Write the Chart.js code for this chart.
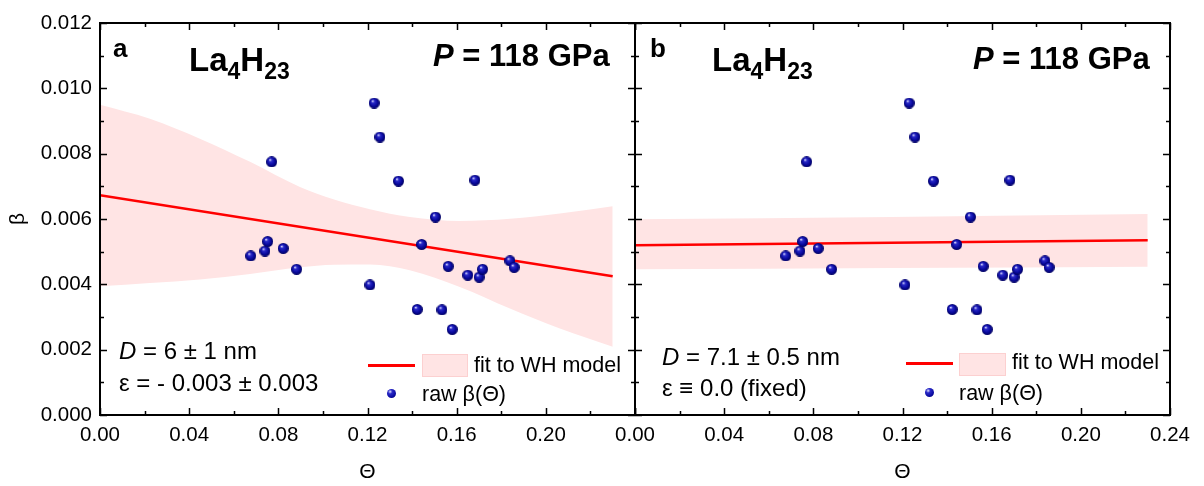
<!DOCTYPE html>
<html>
<head>
<meta charset="utf-8">
<script src="https://cdn.jsdelivr.net/npm/chart.js@4.4.1/dist/chart.umd.min.js"></script>
<style>
  body { margin: 0; background: #fff; width: 1204px; height: 486px; position: relative; overflow: hidden; }
  canvas { position: absolute; top: 0; }
  #chartA { left: 0; }
  #chartB { left: 600px; }
  .t { position: absolute; white-space: nowrap; line-height: 1; font-family: Arial, "Liberation Sans", sans-serif; color: #000; }
  .big { font-size: 31px; font-weight: bold; }
  .chem { font-size: 33px; font-weight: bold; }
  .sub { font-size: 23px; position: relative; top: 8px; }
  .lbl { font-size: 26px; font-weight: bold; }
  .note { font-size: 24px; }
  .leg { font-size: 21.5px; }
  .legline { position: absolute; height: 3px; background: #ff0000; }
  .legbox { position: absolute; background: #ffe4e4; border: 1px solid #fcd0d0; box-sizing: border-box; }
  .legdot { position: absolute; width: 9px; height: 9px; border-radius: 50%;
    background: radial-gradient(circle at 35% 30%, #e0e0ff 0%, #2a2ac8 25%, #0a0aa0 65%, #000060 100%); }
</style>
</head>
<body>
<canvas id="chartA" width="643" height="486"></canvas>
<canvas id="chartB" width="604" height="486"></canvas>

<!-- panel a texts -->
<div class="t lbl" style="left:113px;top:35px">a</div>
<div class="t chem" style="left:189px;top:43px">La<span class="sub">4</span>H<span class="sub">23</span></div>
<div class="t big" style="left:433px;top:40px"><i>P</i> = 118 GPa</div>
<div class="t note" style="left:119px;top:339px"><i>D</i> = 6 ± 1 nm</div>
<div class="t note" style="left:119px;top:371px">ε = - 0.003 ± 0.003</div>
<div class="legline" style="left:368px;top:364px;width:47px"></div>
<div class="legbox" style="left:422px;top:354px;width:46px;height:23px"></div>
<div class="t leg" style="left:474px;top:355px">fit to WH model</div>
<div class="legdot" style="left:387px;top:389px"></div>
<div class="t leg" style="left:422px;top:384px">raw β(Θ)</div>

<!-- panel b texts -->
<div class="t lbl" style="left:650px;top:35px">b</div>
<div class="t chem" style="left:712px;top:43px">La<span class="sub">4</span>H<span class="sub">23</span></div>
<div class="t big" style="left:973px;top:43px"><i>P</i> = 118 GPa</div>
<div class="t note" style="left:662px;top:345px"><i>D</i> = 7.1 ± 0.5 nm</div>
<div class="t note" style="left:662px;top:376px">ε ≡ 0.0 (fixed)</div>
<div class="legline" style="left:906px;top:362px;width:47px"></div>
<div class="legbox" style="left:959px;top:353px;width:47px;height:23px"></div>
<div class="t leg" style="left:1012px;top:352px">fit to WH model</div>
<div class="legdot" style="left:925px;top:388px"></div>
<div class="t leg" style="left:959px;top:383px">raw β(Θ)</div>

<script>
// raw beta(theta) points, same in both panels
const theta = [0.0676, 0.0740, 0.0752, 0.0770, 0.0822, 0.0882, 0.1211, 0.1230, 0.1256, 0.1339, 0.1423,
               0.1443, 0.1505, 0.1534, 0.1562, 0.1580, 0.1650, 0.1682, 0.1701, 0.1716, 0.1839, 0.1858];
const beta = [0.00487, 0.00502, 0.00531, 0.00775, 0.00510, 0.00446, 0.00398, 0.00955, 0.00851, 0.00716, 0.00323,
              0.00522, 0.00606, 0.00322, 0.00455, 0.00262, 0.00428, 0.00719, 0.00422, 0.00446, 0.00472, 0.00452];

// panel a: WH fit and its band
const fitThetaA = [0, 0.23];
const fitBetaA = [0.00673, 0.00425];
const bandThetaA = [0, 0.0224, 0.0448, 0.0673, 0.0897, 0.105, 0.1211, 0.139, 0.1614, 0.1839, 0.2063, 0.23];
const bandUpperA = [0.00950, 0.00907, 0.00846, 0.00775, 0.00698, 0.00660, 0.00630, 0.00606, 0.00594, 0.00601, 0.00617, 0.00639];
const bandLowerA = [0.00394, 0.00404, 0.00415, 0.00432, 0.00452, 0.00460, 0.00461, 0.00443, 0.00392, 0.00326, 0.00265, 0.00209];

// panel b: fit with fixed strain
const fitThetaB = [0, 0.23];
const fitBetaB = [0.00520, 0.00535];
const bandThetaB = [0, 0.115, 0.23];
const bandUpperB = [0.00599, 0.00606, 0.00615];
const bandLowerB = [0.00446, 0.00450, 0.00454];

// axis ticks
const xTicks = [0, 0.04, 0.08, 0.12, 0.16, 0.20, 0.24];
const yTicks = [0, 0.002, 0.004, 0.006, 0.008, 0.010, 0.012];

const FONT = 'Arial, "Liberation Sans", sans-serif';

const pts = (xs, ys) => xs.map((x, i) => ({ x: x, y: ys[i] }));

// little shaded sphere for the markers
function sphere(d) {
  const c = document.createElement('canvas');
  c.width = c.height = d;
  const g = c.getContext('2d');
  const r = d / 2;
  const grad = g.createRadialGradient(r * 0.7, r * 0.6, 0.3, r, r, r);
  grad.addColorStop(0, '#e0e0ff');
  grad.addColorStop(0.25, '#2a2ac8');
  grad.addColorStop(0.65, '#0a0aa0');
  grad.addColorStop(1, '#000060');
  g.fillStyle = grad;
  g.beginPath();
  g.arc(r, r, r, 0, Math.PI * 2);
  g.fill();
  return c;
}
const ball = sphere(11);

// frame with inward major/minor ticks on all four sides
const framePlugin = {
  id: 'frame',
  afterDraw(chart) {
    const { ctx, chartArea: a, scales: { x, y } } = chart;
    ctx.save();
    ctx.strokeStyle = '#000';
    ctx.lineWidth = 1.5;
    ctx.beginPath();
    xTicks.forEach((v, i) => {
      const marks = [[v, 7]];
      if (i < xTicks.length - 1) marks.push([(v + xTicks[i + 1]) / 2, 4]);
      marks.forEach(([val, len]) => {
        const px = Math.round(x.getPixelForValue(val)) + 0.5;
        ctx.moveTo(px, a.bottom); ctx.lineTo(px, a.bottom - len);
        ctx.moveTo(px, a.top); ctx.lineTo(px, a.top + len);
      });
    });
    yTicks.forEach((v, i) => {
      const marks = [[v, 7]];
      if (i < yTicks.length - 1) marks.push([(v + yTicks[i + 1]) / 2, 4]);
      marks.forEach(([val, len]) => {
        const py = Math.round(y.getPixelForValue(val)) + 0.5;
        ctx.moveTo(a.left, py); ctx.lineTo(a.left + len, py);
        ctx.moveTo(a.right, py); ctx.lineTo(a.right - len, py);
      });
    });
    ctx.stroke();
    ctx.lineWidth = 2;
    ctx.strokeRect(a.left, a.top, a.right - a.left, a.bottom - a.top);
    ctx.restore();
  }
};

function makeChart(id, fitT, fitB, bandT, bandU, bandL, opts) {
  return new Chart(document.getElementById(id), {
    type: 'scatter',
    data: {
      datasets: [
        { data: pts(theta, beta), pointStyle: ball, pointRadius: 5.5, order: 0 },
        { data: pts(fitT, fitB), showLine: true, borderColor: '#ff0000', borderWidth: 2.5,
          pointRadius: 0, order: 1 },
        { data: pts(bandT, bandU), showLine: true, borderWidth: 0, pointRadius: 0,
          cubicInterpolationMode: 'monotone', order: 2 },
        { data: pts(bandT, bandL), showLine: true, borderWidth: 0, pointRadius: 0,
          cubicInterpolationMode: 'monotone', fill: 2, backgroundColor: '#ffe4e4', order: 3 }
      ]
    },
    options: {
      responsive: false,
      animation: false,
      events: [],
      layout: { padding: { left: 0, right: opts.padRight, top: 23, bottom: 0 } },
      plugins: { legend: { display: false }, tooltip: { enabled: false } },
      scales: {
        x: {
          type: 'linear', min: 0, max: 0.24,
          afterBuildTicks: s => { s.ticks = xTicks.map(v => ({ value: v })); },
          afterFit: s => { s.height = 71; },
          grid: { display: false, drawTicks: false },
          border: { display: false },
          ticks: {
            padding: 8, color: '#000', maxRotation: 0, autoSkip: false,
            font: { family: FONT, size: 20.5 },
            callback: v => (opts.hideLastX && Math.abs(v - 0.24) < 1e-9) ? '' : v.toFixed(2)
          },
          title: { display: true, text: 'Θ', color: '#000', padding: { top: 0, bottom: 1 },
                   font: { family: FONT, size: 21 } }
        },
        y: {
          type: 'linear', min: 0, max: 0.012,
          afterBuildTicks: s => { s.ticks = yTicks.map(v => ({ value: v })); },
          afterFit: s => { s.width = opts.yWidth; },
          grid: { display: false, drawTicks: false },
          border: { display: false },
          ticks: {
            display: opts.showY, padding: 8, color: '#000',
            font: { family: FONT, size: 20.5 },
            callback: v => v.toFixed(3)
          },
          title: { display: opts.showY, text: 'β', color: '#000', padding: { top: 6, bottom: 0 },
                   font: { family: FONT, size: 21 } }
        }
      }
    },
    plugins: [framePlugin]
  });
}

// tick padding (8px) sets the right margin of panel a, so its canvas is 643 wide
const chartA = makeChart('chartA', fitThetaA, fitBetaA, bandThetaA, bandUpperA, bandLowerA,
  { padRight: 0, yWidth: 100, showY: true, hideLastX: true });
const chartB = makeChart('chartB', fitThetaB, fitBetaB, bandThetaB, bandUpperB, bandLowerB,
  { padRight: 34, yWidth: 35, showY: false, hideLastX: false });

// put panel b's left axis exactly on panel a's right axis
document.getElementById('chartB').style.left =
  Math.round(chartA.chartArea.right - chartB.chartArea.left) + 'px';
</script>
</body>
</html>
